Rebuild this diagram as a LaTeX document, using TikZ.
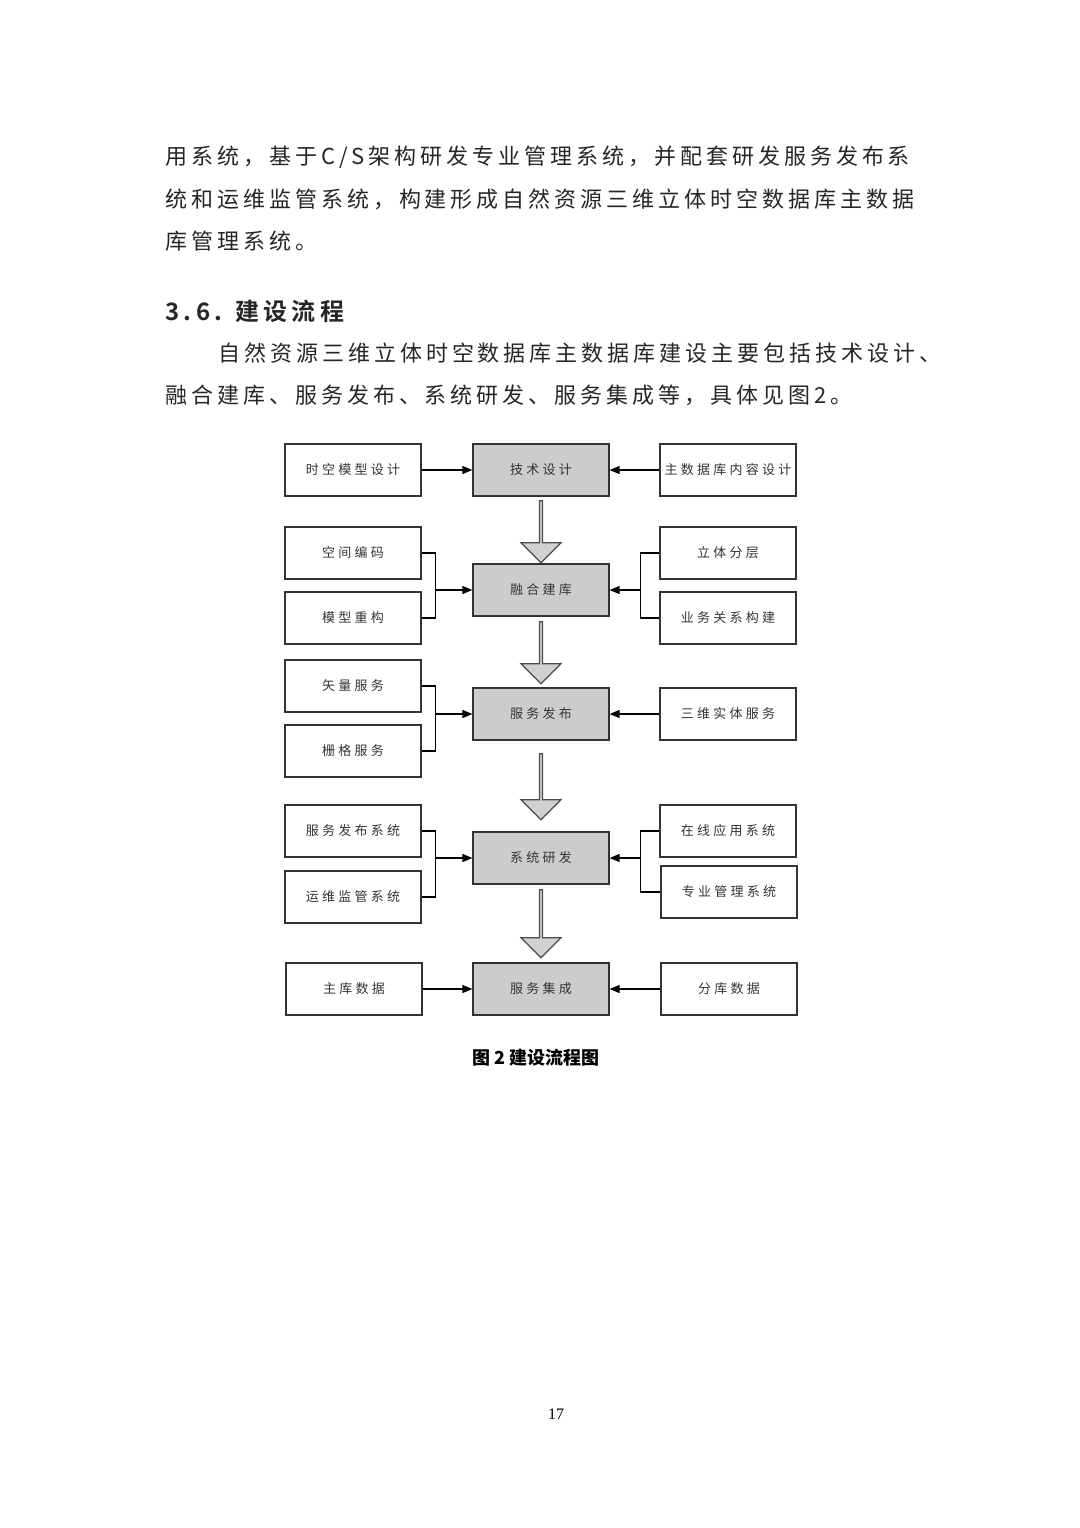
\documentclass[tikz,border=0pt]{standalone}
\usepackage{fontspec}
\setmainfont{Liberation Serif}
\newfontfamily\cjk[LetterSpace=18]{Noto Sans CJK SC}
\newfontfamily\cjkb[LetterSpace=18,BoldFont={Noto Sans CJK SC Bold}]{Noto Sans CJK SC}
\newfontfamily\boxf[LetterSpace=25]{Noto Sans CJK SC}
\newfontfamily\capf{Noto Sans CJK SC}
\usetikzlibrary{arrows.meta,shapes.arrows}
\begin{document}
\begin{tikzpicture}[x=0.5pt,y=-0.5pt,
  bx/.style={draw=black!80,line width=0.6pt,minimum width=68pt,minimum height=26pt,inner sep=0pt,font=\boxf\fontsize{6.5}{8}\selectfont,text=black!80},
  cbx/.style={bx,fill=black!20},
  lnk/.style={line width=0.6pt,-{Triangle[length=5pt,width=4pt]}},
  ln/.style={line width=0.6pt},
  barrow/.style={single arrow,draw=black!70,fill=black!18,line width=0.6pt,shape border rotate=270,minimum width=20pt,single arrow head extend=3.5pt,single arrow tip angle=90,inner sep=0pt},
  body/.style={anchor=west,inner sep=0pt,font=\cjk\fontsize{11}{13}\selectfont,text=black!85}]
\useasboundingbox (0,0) rectangle (1080,1528);
\node[body] (t1) at (165,157) {用系统，基于C/S架构研发专业管理系统，并配套研发服务发布系};
\node[body] (t2) at (165,199) {统和运维监管系统，构建形成自然资源三维立体时空数据库主数据};
\node[body] (t3) at (165,241) {库管理系统。};
\node[body,font=\cjkb\bfseries\fontsize{12}{14}\selectfont] (h) at (165,311) {3.6. 建设流程};
\node[body] (t4) at (218,353) {自然资源三维立体时空数据库主数据库建设主要包括技术设计、};
\node[body] (t5) at (165,395) {融合建库、服务发布、系统研发、服务集成等，具体见图2。};
% row 1
\node[bx] (l1) at (353,470) {时空模型设计};
\node[cbx] (c1) at (541,470) {技术设计};
\node[bx] (r1) at (728,470) {主数据库内容设计};
% row 2
\node[bx] (l2a) at (353,553) {空间编码};
\node[bx] (l2b) at (353,618) {模型重构};
\node[cbx] (c2) at (541,590) {融合建库};
\node[bx] (r2a) at (728,553) {立体分层};
\node[bx] (r2b) at (728,618) {业务关系构建};
% row 3
\node[bx] (l3a) at (353,686) {矢量服务};
\node[bx] (l3b) at (353,751) {栅格服务};
\node[cbx] (c3) at (541,714) {服务发布};
\node[bx] (r3) at (728,714) {三维实体服务};
% row 4
\node[bx] (l4a) at (353,831) {服务发布系统};
\node[bx] (l4b) at (353,897) {运维监管系统};
\node[cbx] (c4) at (541,858) {系统研发};
\node[bx] (r4a) at (728,831) {在线应用系统};
\node[bx] (r4b) at (729,892) {专业管理系统};
% row 5
\node[bx] (l5) at (354,989) {主库数据};
\node[cbx] (c5) at (541,989) {服务集成};
\node[bx] (r5) at (729,989) {分库数据};
% block arrows
\node[barrow,minimum height=31pt] at (541,531) {};
\node[barrow,minimum height=31pt] at (541,652) {};
\node[barrow,minimum height=33pt] at (541,786) {};
\node[barrow,minimum height=34pt] at (541,923) {};
% connectors
\draw[lnk] (l1) -- (c1);
\draw[lnk] (r1) -- (c1);
\draw[lnk] (l5) -- (c5);
\draw[lnk] (r5) -- (c5);
\draw[lnk] (r3) -- (c3);
\foreach \a/\b/\c in {l2a/l2b/c2,l3a/l3b/c3,l4a/l4b/c4}{
  \draw[ln] (\a.east) -- ++(14,0) |- (\b.east);
  \draw[lnk] (\a.east) ++(14,0) |- (\c.west);
}
\foreach \a/\b/\c in {r2a/r2b/c2,r4a/r4b/c4}{
  \draw[ln] (\a.west) -- ++(-19,0) |- (\b.west);
  \draw[lnk] (\a.west) ++(-19,0) |- (\c.east);
}
\node[font=\capf\bfseries\fontsize{9}{11}\selectfont] (cap) at (536,1058) {图 2 建设流程图};
\node[font=\fontsize{8}{10}\selectfont] (pg) at (556,1414) {17};
\end{tikzpicture}
\end{document}
